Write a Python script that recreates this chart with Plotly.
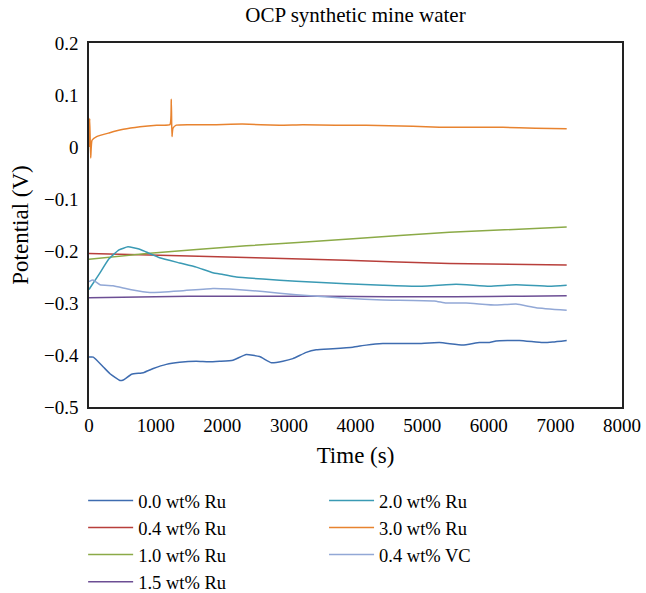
import plotly.graph_objects as go

# Open-circuit potential (V) vs time (s) for each alloy
t_00 = [0, 65, 215, 315, 465, 515, 640, 815, 965, 1160, 1360, 1610, 1790, 1960, 2160, 2360, 2560,
        2740, 2910, 3060, 3260, 3410, 3660, 3960, 4160, 4410, 4910, 5260, 5610, 5860, 6010, 6110,
        6460, 6810, 6960, 7170]
v_00 = [-0.404, -0.404, -0.423, -0.436, -0.449, -0.448, -0.437, -0.434, -0.426, -0.418, -0.414,
        -0.412, -0.413, -0.412, -0.410, -0.399, -0.403, -0.415, -0.412, -0.407, -0.395, -0.390,
        -0.388, -0.385, -0.381, -0.378, -0.378, -0.376, -0.381, -0.376, -0.376, -0.373, -0.372,
        -0.376, -0.375, -0.372]

t_04 = [0, 1360, 2500, 3860, 5410, 7170]
v_04 = [-0.205, -0.209, -0.213, -0.218, -0.224, -0.227]

t_10 = [0, 865, 2360, 3910, 5410, 7170]
v_10 = [-0.216, -0.205, -0.190, -0.177, -0.164, -0.154]

t_15 = [0, 500, 1000, 1500, 2500, 3500, 4500, 5500, 6500, 7170]
v_15 = [-0.290, -0.289, -0.288, -0.287, -0.287, -0.287, -0.288, -0.288, -0.287, -0.286]

t_20 = [0, 150, 300, 450, 585, 750, 860, 1060, 1360, 1610, 1860, 2010, 2210, 2610, 3110, 3860,
        4410, 4910, 5510, 6010, 6410, 6910, 7170]
v_20 = [-0.274, -0.245, -0.215, -0.198, -0.192, -0.196, -0.202, -0.213, -0.223, -0.231, -0.242,
        -0.245, -0.250, -0.254, -0.258, -0.263, -0.266, -0.268, -0.264, -0.268, -0.265, -0.268,
        -0.266]

t_30 = [0, 10, 25, 45, 115, 300, 515, 765, 1015, 1215, 1235, 1245, 1260, 1310, 1500, 1860, 2300,
        2860, 3210, 3700, 4160, 4860, 5260, 5700, 6210, 6700, 7170]
v_30 = [0.0, 0.055, -0.021, 0.013, 0.020, 0.027, 0.034, 0.039, 0.042, 0.043, 0.092, 0.020, 0.036,
        0.042, 0.043, 0.043, 0.044, 0.042, 0.043, 0.042, 0.042, 0.040, 0.038, 0.038, 0.038, 0.036,
        0.035]

t_vc = [0, 60, 165, 360, 615, 915, 1360, 1860, 2110, 2610, 3110, 3860, 4410, 5180, 5360, 5660,
        6110, 6410, 6710, 7170]
v_vc = [-0.259, -0.256, -0.265, -0.267, -0.274, -0.280, -0.277, -0.272, -0.273, -0.278, -0.284,
        -0.291, -0.294, -0.296, -0.300, -0.300, -0.304, -0.302, -0.309, -0.314]

# Axis tick values and their printed labels (typographic minus)
x_ticks = [0, 1000, 2000, 3000, 4000, 5000, 6000, 7000, 8000]
y_ticks = [0.2, 0.1, 0.0, -0.1, -0.2, -0.3, -0.4, -0.5]
y_labels = ["0.2", "0.1", "0", "\u22120.1", "\u22120.2", "\u22120.3", "\u22120.4", "\u22120.5"]

series = [
    ("0.0 wt% Ru", t_00, v_00, "#3E6CB0", "legend"),
    ("0.4 wt% Ru", t_04, v_04, "#B83F3B", "legend"),
    ("1.0 wt% Ru", t_10, v_10, "#8BAA47", "legend"),
    ("1.5 wt% Ru", t_15, v_15, "#6C4E94", "legend"),
    ("2.0 wt% Ru", t_20, v_20, "#3A9AB4", "legend2"),
    ("3.0 wt% Ru", t_30, v_30, "#E8832F", "legend2"),
    ("0.4 wt% VC", t_vc, v_vc, "#92A8D6", "legend2"),
]

FONT = "Liberation Serif, Times New Roman, serif"

fig = go.Figure()
for name, t, v, color, leg in series:
    fig.add_trace(go.Scatter(x=t, y=v, mode="lines", name=name,
                             line=dict(color=color, width=1.5, shape="spline", smoothing=0.4),
                             legend=leg))

legend_style = dict(font=dict(family=FONT, size=18.5, color="black"),
                    bgcolor="rgba(0,0,0,0)", orientation="v",
                    xref="paper", yref="paper", xanchor="left", yanchor="top",
                    tracegroupgap=0, itemwidth=45)

fig.update_layout(
    width=646, height=593,
    margin=dict(l=89, r=24, t=43, b=186, autoexpand=False),
    paper_bgcolor="white", plot_bgcolor="white",
    font=dict(family=FONT, size=19, color="black"),
    title=dict(text="OCP synthetic mine water", x=0.5, xref="paper", y=0.975,
               yanchor="middle", font=dict(family=FONT, size=21)),
    xaxis=dict(range=[0, 8000], tickvals=x_ticks, showgrid=False, zeroline=False,
               showline=True, mirror=True, linecolor="#222", linewidth=1.5, ticks="",
               title=dict(text="Time (s)", standoff=12),
               tickfont=dict(size=19)),
    yaxis=dict(range=[-0.5, 0.2], tickvals=y_ticks, ticktext=y_labels, showgrid=False,
               zeroline=False, showline=True, mirror=True, linecolor="#222", linewidth=1.5,
               ticks="", ticklabelstandoff=5, title=dict(text="Potential (V)", standoff=9),
               tickfont=dict(size=19)),
    legend=dict(x=-0.011, y=-0.206, **legend_style),
    legend2=dict(x=0.441, y=-0.206, **legend_style),
    showlegend=True,
)

fig.write_html("out.html")
